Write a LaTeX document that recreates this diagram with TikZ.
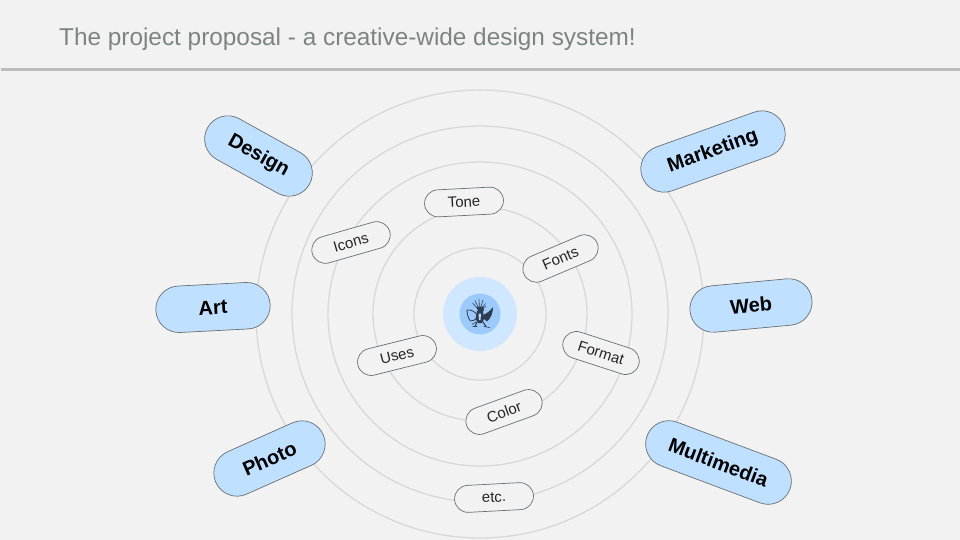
\documentclass[tikz,border=0pt]{standalone}
\usepackage{fontspec}
\setmainfont{Liberation Sans}
\usetikzlibrary{shapes.misc}
\definecolor{bgc}{HTML}{F2F2F2}
\definecolor{ringc}{HTML}{D8D8D8}
\definecolor{pillc}{HTML}{BFE0FF}
\definecolor{edgec}{HTML}{6A6F73}
\definecolor{titlec}{HTML}{7C8482}
\definecolor{rulec}{HTML}{B9BDBC}
\definecolor{halo}{HTML}{CFE7FF}
\definecolor{core}{HTML}{9CCBFB}
\definecolor{ink}{HTML}{2F3D52}
\tikzset{
 ring/.style={draw=ringc,line width=1.3pt},
 bigpill/.style={rounded rectangle,draw=edgec,line width=.7pt,fill=pillc,minimum height=46.5pt,inner sep=0pt,font=\fontsize{20}{24}\selectfont\bfseries,text=black},
 smallpill/.style={rounded rectangle,draw=edgec,line width=.7pt,fill=bgc,minimum height=27pt,inner sep=0pt,font=\fontsize{15}{18}\selectfont,text=black!85},
 logoline/.style={draw=ink,line width=.6pt,line cap=round,line join=round}
}
\begin{document}
\begin{tikzpicture}[x=1pt,y=-1pt]
\useasboundingbox (0,0) rectangle (960,540);
\fill[bgc] (0,0) rectangle (960,540);
\node[anchor=base west,inner sep=0pt,text=titlec,font=\fontsize{24.35}{28}\selectfont] (title) at (59,45.5) {The project proposal - a creative-wide design system!};
\coordinate (ruleL) at (1,69.5);
\coordinate (ruleR) at (960,69.5);
\draw[draw=rulec,line width=2.6pt] (ruleL) -- (ruleR);
\begin{scope}
\clip (0,0) rectangle (960,540);
\foreach \r in {224,188,152,107,66} \draw[ring] (480,314) circle[radius=\r];
\end{scope}
\fill[halo] (480,314) circle[radius=37];
\fill[core] (480,314) circle[radius=20.5];
% logo
\draw[logoline] (478,309) -- (472.5,303) (478.5,308) -- (475,300.5) (479.5,308) -- (479,299.5) (480.5,308) -- (483,300) (481,309) -- (485.5,303.5) (480,309) -- (486,306.5);
\fill[ink] (476.5,307) -- (483,306.5) -- (484,310) -- (482,312) -- (478,311) -- cycle;
\draw[logoline,line width=.8pt] (467,310) .. controls (471,309.5) and (475,311.5) .. (477,315) (467,310) .. controls (467,314) and (468,318) .. (470.5,321) .. controls (473,321) and (475,320) .. (477,318);
\fill[ink] (483,315) .. controls (487,313.5) and (490.5,310.5) .. (493,307) .. controls (493,313) and (491,318) .. (487,321.5) -- (484,319) -- cycle;
\fill[ink] (477,311) -- (483,311) -- (484,319) -- (482,323) -- (478,323) -- (475.5,319) -- cycle;
\fill[core!70!white] (478.5,313.5) -- (481,313.5) -- (480.5,320) -- (479,320) -- cycle;
\draw[logoline,line width=1pt] (477,322) -- (475,326.5) (483,322) -- (486,326.5);
\draw[logoline] (473,326.5) -- (477,326.5) (484,326.5) -- (489.5,327.5) (472,324.5) -- (476,322);
\node[bigpill,minimum width=116.5pt,rotate=-29] (design) at (258.5,156) {Design};
\node[bigpill,minimum width=114.5pt,rotate=3] (art) at (213,307.5) {Art};
\node[bigpill,minimum width=150.5pt,rotate=19.6] (marketing) at (713,151.5) {Marketing};
\node[bigpill,minimum width=122.5pt,rotate=5.3] (web) at (751,305.5) {Web};
\node[bigpill,minimum width=117.5pt,rotate=24] (photo) at (269.5,458.5) {Photo};
\node[bigpill,minimum width=152.5pt,rotate=-20.5] (multimedia) at (718.5,462.5) {Multimedia};
\node[smallpill,minimum width=79pt,rotate=3] (tone) at (464,202) {Tone};
\node[smallpill,minimum width=80.5pt,rotate=16] (icons) at (351,242.5) {Icons};
\node[smallpill,minimum width=79.5pt,rotate=23] (fonts) at (560.5,258.5) {Fonts};
\node[smallpill,minimum width=79pt,rotate=-18] (format) at (601,353) {Format};
\node[smallpill,minimum width=80.5pt,rotate=14] (uses) at (397,355.5) {Uses};
\node[smallpill,minimum width=79.5pt,rotate=20] (color) at (504,412) {Color};
\node[smallpill,minimum width=79pt,rotate=3] (etc) at (494,497.5) {etc.};
\end{tikzpicture}
\end{document}
